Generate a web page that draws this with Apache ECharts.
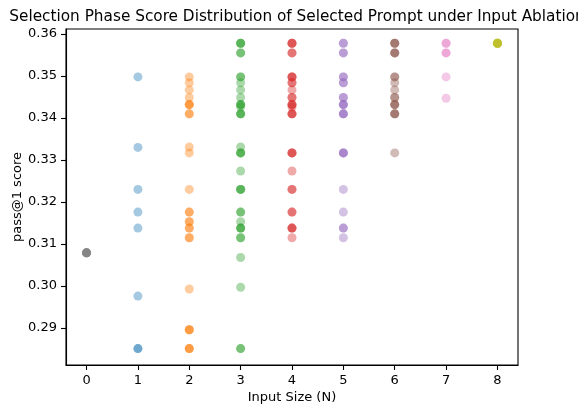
<!DOCTYPE html>
<html>
<head>
<meta charset="utf-8">
<script src="https://cdn.jsdelivr.net/npm/echarts@6/dist/echarts.min.js"></script>
<style>
html,body{margin:0;padding:0;background:#fff;}
#chart{width:578px;height:405px;}
</style>
</head>
<body>
<div id="chart"></div>
<script>
// Input sizes (N) and scores of selected prompts (repeated values = overlapping points)
const inputSizes = [0, 1, 2, 3, 4, 5, 6, 7, 8];
const scoresN0 = [0.3079, 0.3079, 0.3079, 0.3079, 0.3079, 0.3079];
const scoresN1 = [0.3498, 0.3330, 0.3230, 0.3176, 0.3138, 0.2976, 0.2851, 0.2851];
const scoresN2 = [0.3498, 0.3484, 0.3467, 0.3449, 0.3432, 0.3432, 0.3432, 0.3410, 0.3410,
  0.3331, 0.3317, 0.3230, 0.3176, 0.3176, 0.3153, 0.3153, 0.3138, 0.3138, 0.3115, 0.3115,
  0.2993, 0.2896, 0.2896, 0.2896, 0.2851, 0.2851, 0.2851];
const scoresN3 = [0.3578, 0.3578, 0.3578, 0.3555, 0.3555, 0.3498, 0.3498, 0.3484, 0.3467, 0.3449,
  0.3432, 0.3432, 0.3432, 0.3426, 0.3410, 0.3410, 0.3410, 0.3331, 0.3317, 0.3317, 0.3317,
  0.3274, 0.3230, 0.3230, 0.3230, 0.3176, 0.3176, 0.3153, 0.3138, 0.3138, 0.3138,
  0.3115, 0.3115, 0.3068, 0.2997, 0.2851, 0.2851];
const scoresN4 = [0.3578, 0.3578, 0.3578, 0.3555, 0.3555, 0.3498, 0.3498, 0.3498, 0.3484, 0.3484,
  0.3467, 0.3449, 0.3449, 0.3432, 0.3432, 0.3432, 0.3426, 0.3410, 0.3410, 0.3410,
  0.3317, 0.3317, 0.3317, 0.3274, 0.3230, 0.3230, 0.3176, 0.3176, 0.3138, 0.3138, 0.3138, 0.3115];
const scoresN5 = [0.3578, 0.3578, 0.3555, 0.3555, 0.3498, 0.3498, 0.3484, 0.3484, 0.3449, 0.3449,
  0.3432, 0.3432, 0.3432, 0.3410, 0.3410, 0.3410, 0.3317, 0.3317, 0.3317,
  0.3230, 0.3176, 0.3138, 0.3138, 0.3115];
const scoresN6 = [0.3578, 0.3578, 0.3578, 0.3555, 0.3555, 0.3555, 0.3498, 0.3498, 0.3484, 0.3467,
  0.3449, 0.3449, 0.3432, 0.3432, 0.3432, 0.3410, 0.3410, 0.3410, 0.3317];
const scoresN7 = [0.3578, 0.3578, 0.3555, 0.3555, 0.3498, 0.3447];
const scoresN8 = [0.3578, 0.3578, 0.3578, 0.3578, 0.3578, 0.3578];
const allScores = [scoresN0, scoresN1, scoresN2, scoresN3, scoresN4, scoresN5, scoresN6, scoresN7, scoresN8];
const colors = ['#7f7f7f', '#1f77b4', '#ff7f0e', '#2ca02c', '#d62728', '#9467bd', '#8c564b', '#e377c2', '#bcbd22'];
const yTicks = [0.29, 0.30, 0.31, 0.32, 0.33, 0.34, 0.35, 0.36];

const font = 'DejaVu Sans';
const chart = echarts.init(document.getElementById('chart'), null, {renderer: 'canvas'});
const series = inputSizes.map((n, i) => ({
  type: 'scatter',
  name: 'N=' + n,
  symbol: 'circle',
  symbolSize: 9,
  itemStyle: {color: colors[i], opacity: 0.4},
  emphasis: {disabled: true},
  data: allScores[i].map(v => [n, v])
}));

chart.setOption({
  animation: false,
  backgroundColor: '#ffffff',
  title: {
    text: 'Selection Phase Score Distribution of Selected Prompt under Input Ablation',
    left: 292, top: 5, textAlign: 'center',
    textStyle: {fontFamily: font, fontSize: 15.3, fontWeight: 'normal', color: '#000'}
  },
  grid: {left: 66, right: 60, top: 29, bottom: 40, show: true, borderColor: '#000', borderWidth: 1.1,
    backgroundColor: 'transparent', containLabel: false, outerBoundsMode: 'none'},
  xAxis: {
    type: 'value', min: -0.4, max: 8.4,
    name: 'Input Size (N)', nameLocation: 'middle', nameGap: 26, nameMoveOverlap: false,
    nameTextStyle: {fontFamily: font, fontSize: 13, color: '#000'},
    axisLine: {show: true, onZero: false, lineStyle: {color: '#000', width: 1.1}},
    axisTick: {show: true, length: 5, lineStyle: {color: '#000', width: 1.1}, customValues: inputSizes},
    axisLabel: {fontFamily: font, fontSize: 13, color: '#000', margin: 9, customValues: inputSizes, formatter: v => String(v)},
    splitLine: {show: false}
  },
  yAxis: {
    type: 'value', min: 0.2812, max: 0.3612,
    name: 'pass@1 score', nameLocation: 'middle', nameGap: 42, nameMoveOverlap: false,
    nameTextStyle: {fontFamily: font, fontSize: 13, color: '#000'},
    axisLine: {show: true, onZero: false, lineStyle: {color: '#000', width: 1.1}},
    axisTick: {show: true, length: 5, lineStyle: {color: '#000', width: 1.1}, customValues: yTicks},
    axisLabel: {fontFamily: font, fontSize: 13, color: '#000', margin: 9, customValues: yTicks, formatter: v => v.toFixed(2)},
    splitLine: {show: false}
  },
  series: series
});
</script>
</body>
</html>
